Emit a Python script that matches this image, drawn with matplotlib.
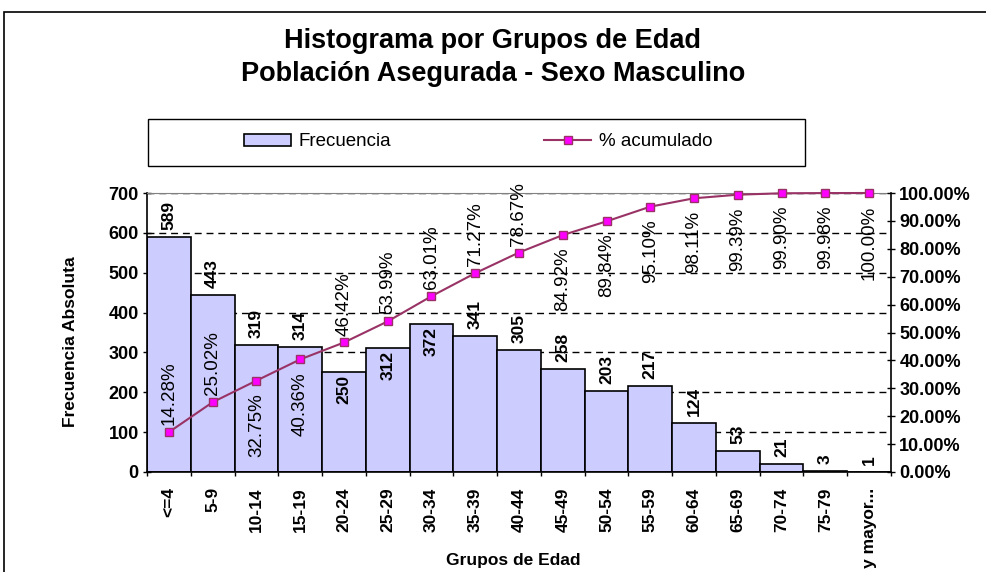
import matplotlib
matplotlib.use("Agg")
import matplotlib.pyplot as plt
import numpy as np
from matplotlib.lines import Line2D
from matplotlib.patches import Patch, Rectangle
from matplotlib.ticker import FuncFormatter

plt.rcParams["font.family"] = ["Liberation Sans", "DejaVu Sans"]

grupos = [
    "<=4", "5-9", "10-14", "15-19", "20-24", "25-29", "30-34", "35-39",
    "40-44", "45-49", "50-54", "55-59", "60-64", "65-69", "70-74", "75-79",
    "80 y mayor...",
]
frecuencia = [589, 443, 319, 314, 250, 312, 372, 341, 305, 258, 203, 217,
              124, 53, 21, 3, 1]
pct_acumulado = [14.28, 25.02, 32.75, 40.36, 46.42, 53.99, 63.01, 71.27,
                 78.67, 84.92, 89.84, 95.10, 98.11, 99.39, 99.90, 99.98,
                 100.00]

# where the labels sit (a = above / outside, b = below / inside)
pos_pct = ["a", "a", "b", "b", "a", "a", "a", "a", "a",
           "b", "b", "b", "b", "b", "b", "b", "b"]
pos_bar = ["a", "a", "a", "a", "b", "b", "b", "a", "a",
           "a", "a", "a", "a", "a", "a", "a", "a"]

W, H = 987, 572
BAR_COLOR = "#CCCCFF"
LINE_COLOR = "#993366"
MARKER_COLOR = "#FF00FF"

fig = plt.figure(figsize=(W / 100, H / 100), dpi=100)
ax = fig.add_axes([147 / W, 1 - 472 / H, (891 - 147) / W, (472 - 193) / H])

x = np.arange(len(grupos))
ax.bar(x, frecuencia, width=1.0, color=BAR_COLOR, edgecolor="black",
       linewidth=1.2, zorder=2)
ax.set_xlim(-0.5, len(grupos) - 0.5)
ax.set_ylim(0, 700)
ax.set_yticks(np.arange(0, 701, 100))
ax.set_axisbelow(True)
ax.yaxis.grid(True, color="black", linestyle=(0, (5, 3.5)), linewidth=1.0)

ax.set_xticks(x)
ax.set_xticklabels(grupos, rotation=90, fontsize=12.5, fontweight="bold",
                   va="top", ha="center")
ax.set_xticks(np.arange(len(grupos) + 1) - 0.5, minor=True)
ax.tick_params(axis="x", which="major", length=0, pad=11)
ax.tick_params(axis="x", which="minor", length=3, direction="out",
               width=1)
ax.tick_params(axis="y", direction="inout", length=6, width=1,
               labelsize=13, pad=3)
for lab in ax.get_yticklabels():
    lab.set_fontweight("bold")

ax.spines["top"].set_color("#808080")
ax.spines["right"].set_visible(False)
for s in ("left", "bottom"):
    ax.spines[s].set_linewidth(1.2)

for xi, v, p in zip(x, frecuencia, pos_bar):
    if p == "a":
        ax.annotate(str(v), (xi, v), xytext=(0, 5), textcoords="offset points",
                    rotation=90, ha="center", va="bottom", fontsize=12.5,
                    fontweight="bold", zorder=5)
    else:
        ax.annotate(str(v), (xi, v), xytext=(0, -2), textcoords="offset points",
                    rotation=90, ha="center", va="top", fontsize=12.5,
                    fontweight="bold", zorder=5)

ax2 = ax.twinx()
pct = np.array(pct_acumulado) / 100
ax2.plot(x, pct, color=LINE_COLOR, linewidth=1.5, marker="s", markersize=6,
         markerfacecolor=MARKER_COLOR, markeredgecolor=LINE_COLOR,
         clip_on=False, zorder=4)
ax2.set_ylim(0, 1)
ax2.set_yticks(np.arange(0, 1.01, 0.1))
ax2.yaxis.set_major_formatter(FuncFormatter(lambda v, _: f"{v * 100:.2f}%"))
ax2.tick_params(axis="y", direction="inout", length=6, width=1,
                labelsize=13, pad=3)
for lab in ax2.get_yticklabels():
    lab.set_fontweight("bold")
for s in ("top", "left", "bottom"):
    ax2.spines[s].set_visible(False)
ax2.spines["right"].set_linewidth(1.2)

for xi, v, p, txt in zip(x, pct, pos_pct, pct_acumulado):
    label = f"{txt:.2f}%"
    if p == "a":
        ax2.annotate(label, (xi, v), xytext=(0, 5), textcoords="offset points",
                     rotation=90, ha="center", va="bottom", fontsize=13.5)
    else:
        ax2.annotate(label, (xi, v), xytext=(0, -9), textcoords="offset points",
                     rotation=90, ha="center", va="top", fontsize=13.5)

# titles and axis labels
fig.text(493 / W, 1 - 47.5 / H, "Histograma por Grupos de Edad",
         ha="center", va="baseline", fontsize=19.5, fontweight="bold")
fig.text(493 / W, 1 - 81 / H, "Población Asegurada - Sexo Masculino",
         ha="center", va="baseline", fontsize=19.5, fontweight="bold")
fig.text(71 / W, 1 - 342 / H, "Frecuencia Absoluta", rotation=90,
         ha="center", va="center", fontsize=12.5, fontweight="bold")
fig.text(513 / W, 1 - 561 / H, "Grupos de Edad", ha="center", va="center",
         fontsize=12.5, fontweight="bold")

# legend
handles = [
    Patch(facecolor=BAR_COLOR, edgecolor="black", linewidth=1.2),
    Line2D([0], [0], color=LINE_COLOR, linewidth=1.5, marker="s",
           markersize=6, markerfacecolor=MARKER_COLOR,
           markeredgecolor=LINE_COLOR),
]
fig.legend(handles, ["Frecuencia", "% acumulado"], ncol=2, frameon=False,
           loc="center", bbox_to_anchor=(478 / W, 1 - 142 / H),
           fontsize=13.5, handlelength=2.5, handleheight=0.55,
           handletextpad=0.4, columnspacing=8.2)
fig.patches.append(Rectangle((148 / W, 1 - 166 / H), (805 - 148) / W,
                             (166 - 119) / H, transform=fig.transFigure,
                             fill=False, edgecolor="black", linewidth=1))

# chart area border (cut off at the right and bottom)
fig.patches.append(Rectangle((4 / W, -0.2), 1.2, 1.2 - 12 / H,
                             transform=fig.transFigure, fill=False,
                             edgecolor="black", linewidth=1.2))

fig.savefig("out.png", dpi=100)
